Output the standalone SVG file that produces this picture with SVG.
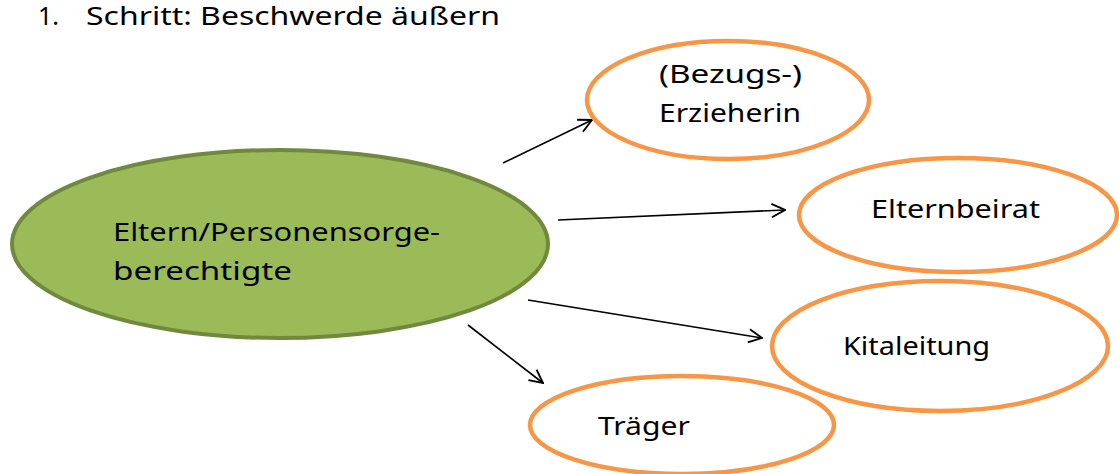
<svg xmlns="http://www.w3.org/2000/svg" width="1119" height="474" viewBox="0 0 1119 474">
<style>
.t{font-family:"Noto Sans","DejaVu Sans",sans-serif;font-size:25px;fill:#000}
.o{fill:#fff;stroke:#F79646;stroke-width:4.5}
.c{stroke:#000;stroke-width:1.6;fill:none;marker-end:url(#a)}
</style>
<defs>
<marker id="a" viewBox="0 0 12 12" refX="11" refY="6" markerWidth="16" markerHeight="16" markerUnits="userSpaceOnUse" orient="auto">
<path d="M1,1 L11,6 L1,11" fill="none" stroke="#000" stroke-width="1.4"/>
</marker>
</defs>
<g id="title">
<text class="t" x="38" y="25" font-size="24">1.</text>
<text class="t" x="86" y="25" font-size="24" textLength="414" lengthAdjust="spacingAndGlyphs">Schritt: Beschwerde äußern</text>
</g>
<g id="connectors">
<line x1="503" y1="163" x2="592" y2="120" class="c"/>
<line x1="558" y1="220" x2="785" y2="210" class="c"/>
<line x1="528" y1="300" x2="762" y2="338" class="c"/>
<line x1="468" y1="325" x2="543" y2="383" class="c"/>
</g>
<g id="eltern">
<ellipse cx="280" cy="244" rx="268" ry="94" fill="#9BBB59" stroke="#71893F" stroke-width="4"/>
<text class="t" x="113" y="241" textLength="327" lengthAdjust="spacingAndGlyphs">Eltern/Personensorge-</text>
<text class="t" x="113" y="280" textLength="179" lengthAdjust="spacingAndGlyphs">berechtigte</text>
</g>
<g id="erzieherin">
<ellipse class="o" cx="728" cy="100" rx="141" ry="59"/>
<text class="t" x="659" y="83" textLength="143" lengthAdjust="spacingAndGlyphs">(Bezugs-)</text>
<text class="t" x="659" y="122" textLength="142" lengthAdjust="spacingAndGlyphs">Erzieherin</text>
</g>
<g id="elternbeirat">
<ellipse class="o" cx="958" cy="215" rx="159" ry="57"/>
<text class="t" x="871" y="218" textLength="169" lengthAdjust="spacingAndGlyphs">Elternbeirat</text>
</g>
<g id="kitaleitung">
<ellipse class="o" cx="940" cy="346" rx="168" ry="65"/>
<text class="t" x="843" y="355" textLength="147" lengthAdjust="spacingAndGlyphs">Kitaleitung</text>
</g>
<g id="traeger">
<ellipse class="o" cx="682" cy="425" rx="152" ry="49"/>
<text class="t" x="598" y="435" textLength="92" lengthAdjust="spacingAndGlyphs">Träger</text>
</g>
</svg>
